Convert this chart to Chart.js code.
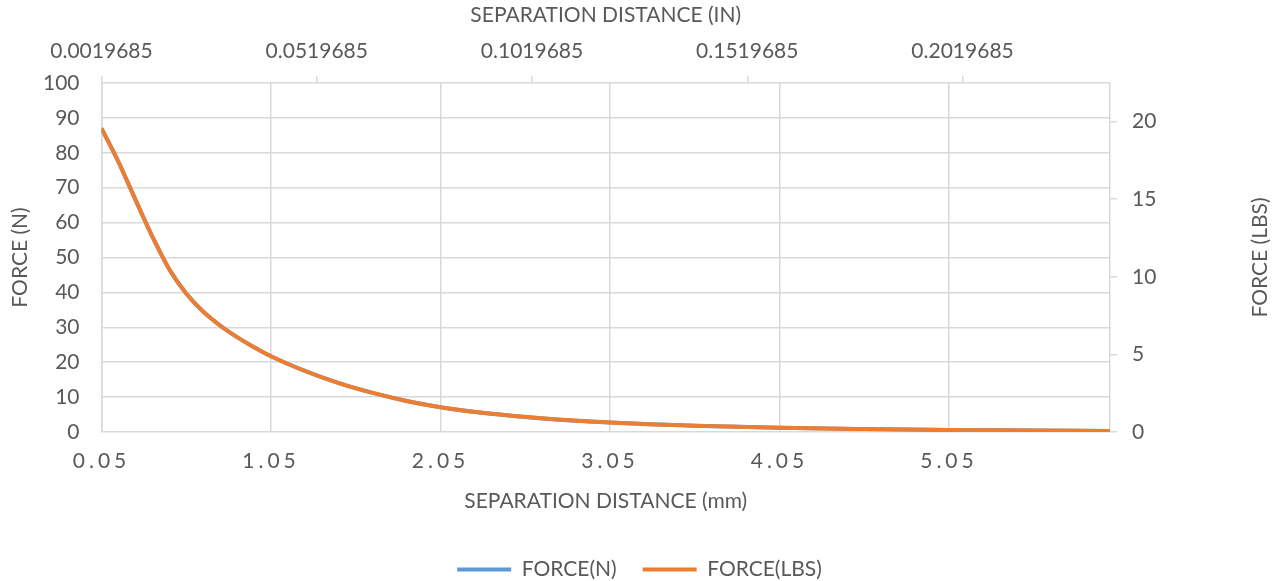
<!DOCTYPE html>
<html>
<head>
  <meta charset="UTF-8">
  <title>Force vs Separation Distance</title>
  <script src="https://cdn.jsdelivr.net/npm/chart.js@4.4.1/dist/chart.umd.min.js"></script>
  <style>
    html, body { margin: 0; padding: 0; background: #fff; }
    #wrap { width: 1279px; height: 581px; position: relative; }
  </style>
</head>
<body>
  <div id="wrap"><canvas id="forceChart"></canvas></div>

  <script>
    // Data
    const distanceMm = [0.05, 0.15, 0.25, 0.35, 0.45, 0.55, 0.65, 0.75, 0.85, 0.95, 1.05,
                        1.25, 1.45, 1.65, 1.85, 2.05, 2.35, 2.65, 3.05, 3.55, 4.05, 4.55, 5.05, 5.55, 6.00];
    const forceN = [87.0, 77.4, 66.6, 56.0, 46.6, 39.7, 34.5, 30.5, 27.2, 24.3, 21.7,
                    17.5, 14.0, 11.2, 8.9, 7.1, 5.2, 3.9, 2.7, 1.8, 1.2, 0.85, 0.6, 0.45, 0.3];
    const forceLbs = [19.56, 17.40, 14.97, 12.59, 10.48, 8.92, 7.76, 6.86, 6.11, 5.46, 4.88,
                      3.93, 3.15, 2.52, 2.00, 1.60, 1.17, 0.88, 0.61, 0.40, 0.27, 0.19, 0.13, 0.10, 0.07];

    // Tick labels
    const mmTicks = [0.05, 1.05, 2.05, 3.05, 4.05, 5.05];
    const inTicks = [0.0019685, 0.0519685, 0.1019685, 0.1519685, 0.2019685];
    const nTicks = [0, 10, 20, 30, 40, 50, 60, 70, 80, 90, 100];
    const lbsTicks = [0, 5, 10, 15, 20];

    const TEXT = '#595959';
    const GRID = '#d9d9d9';
    const BLUE = '#5b9bd5';
    const ORANGE = '#ed7d31';

    Chart.defaults.font.family = 'Lato';
    Chart.defaults.font.size = 21;
    Chart.defaults.color = TEXT;

    // bottom axis labels are letter-spaced in the original
    class SpacedLinearScale extends Chart.LinearScale {
      drawLabels(chartArea) {
        const ctx = this.ctx;
        ctx.save();
        ctx.letterSpacing = '4px';
        super.drawLabels(chartArea);
        ctx.restore();
      }
    }
    SpacedLinearScale.id = 'spacedLinear';
    Chart.register(SpacedLinearScale);

    const setTicks = arr => scale => { scale.ticks = arr.map(v => ({ value: v })); };

    // right axis title reads bottom-to-top, like the left one;
    // legend sits lower than Chart.js would put it
    const extras = {
      id: 'extras',
      afterLayout(chart) {
        chart.legend.top += 19;
        chart.legend.bottom += 19;
      },
      afterDraw(chart) {
        const { ctx, chartArea } = chart;
        ctx.save();
        ctx.translate(chart.width - 19, (chartArea.top + chartArea.bottom) / 2);
        ctx.rotate(-Math.PI / 2);
        ctx.font = '21px Lato';
        ctx.fillStyle = TEXT;
        ctx.textAlign = 'center';
        ctx.textBaseline = 'middle';
        ctx.fillText('FORCE (LBS)', 0, 0);
        ctx.restore();
      }
    };

    const points = arr => distanceMm.map((d, i) => ({ x: d, y: arr[i] }));

    new Chart(document.getElementById('forceChart').getContext('2d'), {
      type: 'line',
      data: {
        datasets: [{
          label: 'FORCE(N)',
          data: points(forceN),
          xAxisID: 'x',
          yAxisID: 'y',
          borderColor: BLUE,
          backgroundColor: BLUE,
          borderWidth: 4,
          pointRadius: 0,
          cubicInterpolationMode: 'monotone',
          order: 2
        }, {
          label: 'FORCE(LBS)',
          data: points(forceLbs),
          xAxisID: 'x',
          yAxisID: 'y2',
          borderColor: ORANGE,
          backgroundColor: ORANGE,
          borderWidth: 4,
          pointRadius: 0,
          cubicInterpolationMode: 'monotone',
          order: 1
        }]
      },
      options: {
        responsive: true,
        maintainAspectRatio: false,
        animation: false,
        layout: { padding: { bottom: 10 } },
        plugins: {
          legend: {
            position: 'bottom',
            labels: {
              boxWidth: 54,
              boxHeight: 4,
              padding: 26,
              useBorderRadius: true,
              borderRadius: 2,
              generateLabels: chart => chart.data.datasets.map((ds, i) => ({
                text: ds.label,
                fillStyle: ds.borderColor,
                strokeStyle: ds.borderColor,
                lineWidth: 0,
                fontColor: TEXT,
                datasetIndex: i
              }))
            }
          },
          tooltip: { enabled: false }
        },
        scales: {
          x: {
            type: 'spacedLinear',
            position: 'bottom',
            min: 0.05,
            max: 6.0,
            afterBuildTicks: setTicks(mmTicks),
            afterFit: s => { s.height = 82; },
            ticks: { padding: 17, callback: v => v.toFixed(2) },
            grid: { color: GRID, lineWidth: 1.5, drawTicks: false },
            border: { display: false },
            title: { display: true, text: 'SEPARATION DISTANCE (mm)', padding: { bottom: 0 } }
          },
          x2: {
            type: 'linear',
            position: 'top',
            min: 0.0019685,
            max: 0.23622,
            afterBuildTicks: setTicks(inTicks),
            afterFit: s => { s.height = 83; },
            ticks: { padding: 12, callback: v => v.toFixed(7) },
            grid: { color: GRID, lineWidth: 1.5, drawOnChartArea: false, drawTicks: true, tickLength: 7 },
            border: { display: false },
            title: { display: true, text: 'SEPARATION DISTANCE (IN)', padding: { top: 3 } }
          },
          y: {
            position: 'left',
            min: 0,
            max: 100,
            afterBuildTicks: setTicks(nTicks),
            afterFit: s => { s.width = 101.5; },
            ticks: { padding: 22 },
            grid: { color: GRID, lineWidth: 1.5, drawTicks: false },
            border: { display: true, color: GRID, width: 1.5 },
            title: { display: true, text: 'FORCE (N)', padding: { top: 8 } }
          },
          y2: {
            position: 'right',
            min: 0,
            max: 22.4809,
            afterBuildTicks: setTicks(lbsTicks),
            afterFit: s => { s.width = 169; },
            ticks: { padding: 15 },
            grid: { color: GRID, lineWidth: 1.5, drawOnChartArea: false, drawTicks: true, tickLength: 7 },
            border: { display: true, color: GRID, width: 1.5 }
          }
        }
      },
      plugins: [extras]
    });
  </script>
</body>
</html>
